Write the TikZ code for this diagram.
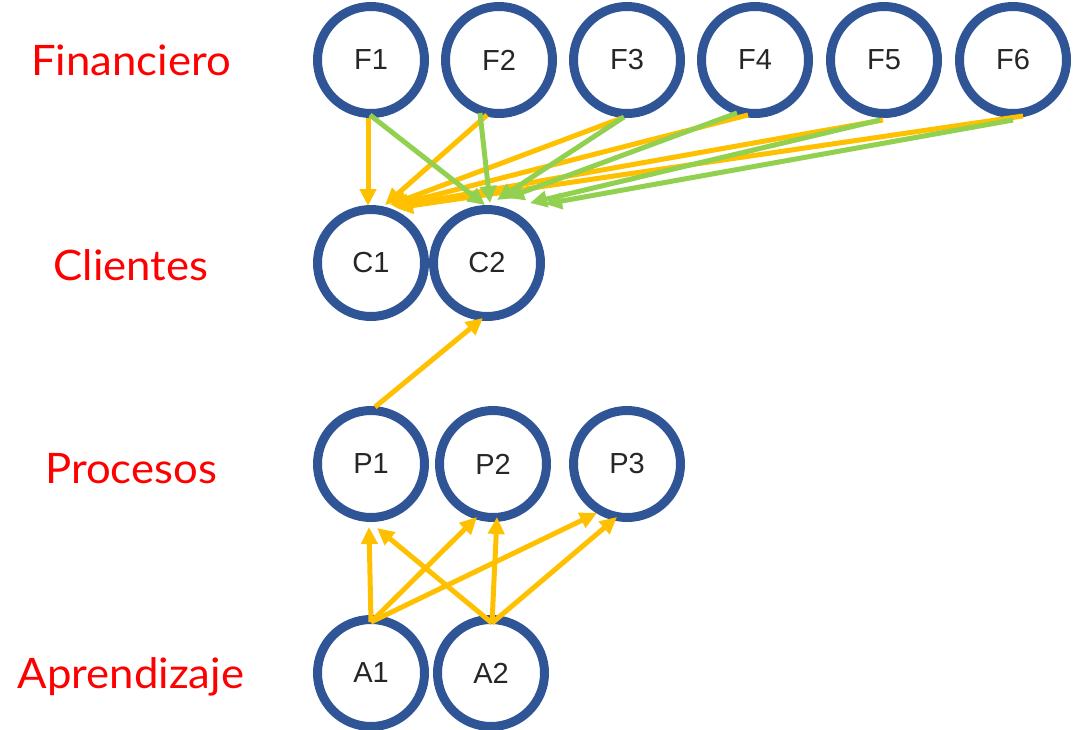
\documentclass[tikz,border=0pt]{standalone}
\usepackage{fontspec}
\setmainfont{Liberation Sans}
\newfontfamily\labelfont{Lato}
\usetikzlibrary{arrows.meta,calc}
\definecolor{ringblue}{HTML}{2F5597}
\definecolor{amber}{HTML}{FFC000}
\definecolor{leaf}{HTML}{92D050}
\definecolor{labelred}{HTML}{FF0000}
\definecolor{ink}{HTML}{262626}

\begin{document}
\begin{tikzpicture}[x=1pt,y=-1pt,
  kpi/.style={circle,draw=ringblue,line width=9pt,minimum size=107pt,inner sep=0pt,
    font=\fontsize{29}{29}\selectfont,text=ink},
  persp/.style={anchor=base,text=labelred,font=\labelfont\fontsize{42}{42}\selectfont},
  link/.style={line width=5pt,-{Triangle[length=17pt,width=16pt]}},
  ylink/.style={link,color=amber},
  glink/.style={link,color=leaf}]
\useasboundingbox (0,0) rectangle (1074,729);

% perspective labels
\node[persp] (lf) at (131,75) {\scalebox{1.04}[1]{Financiero}};
\node[persp] (lc) at (131,280) {\scalebox{1.04}[1]{Clientes}};
\node[persp] (lp) at (131,483) {\scalebox{1.04}[1]{Procesos}};
\node[persp] (la) at (131,688) {\scalebox{1.04}[1]{Aprendizaje}};

% indicator circles
\node[kpi] (F1) at (371,60) {F1};
\node[kpi] (F2) at (499,60) {F2};
\node[kpi] (F3) at (627,60) {F3};
\node[kpi] (F4) at (755,60) {F4};
\node[kpi] (F5) at (884,60) {F5};
\node[kpi] (F6) at (1013,60) {F6};
\node[kpi] (C1) at (371,263) {C1};
\node[kpi] (C2) at (487,263) {C2};
\node[kpi] (P1) at (371,464) {P1};
\node[kpi] (P2) at (493,464) {P2};
\node[kpi] (P3) at (627,464) {P3};
\node[kpi] (A1) at (371,673) {A1};
\node[kpi] (A2) at (491,673) {A2};

% financial -> client (amber, into C1)
\draw[ylink] ($(F1)+(-3,58)$) -- ($(C1)+(-3,-57)$);
\draw[ylink] ($(F2)+(-12,55)$) -- ($(C1)+(14,-58)$);
\draw[ylink] ($(F3)+(-5,58)$) -- ($(C1)+(19,-58)$);
\draw[ylink] ($(F4)+(-7,55)$) -- ($(C1)+(21,-57)$);
\draw[ylink] ($(F5)+(-1,60)$) -- ($(C1)+(23,-56)$);
\draw[ylink] ($(F6)+(10,56)$) -- ($(C1)+(25,-55)$);

% financial -> client (green, into C2)
\draw[glink] ($(F1)+(-1,55)$) -- ($(C2)+(-2,-58)$);
\draw[glink] ($(F2)+(-19,53)$) -- ($(C2)+(3,-60)$);
\draw[glink] ($(F3)+(-3,57)$) -- ($(C2)+(10,-63)$);
\draw[glink] ($(F4)+(-18,53)$) -- ($(C2)+(20,-65)$);
\draw[glink] ($(F5)+(-4,60)$) -- ($(C2)+(43,-60)$);
\draw[glink] ($(F6)+(0,60)$) -- ($(C2)+(58,-59)$);

% process -> client
\draw[ylink] ($(P1)+(4,-57)$) -- ($(C2)+(-4,55)$);

% learning -> process
\draw[ylink] ($(A1)+(0,-51)$) -- ($(P1)+(-2,63)$);
\draw[ylink] ($(A1)+(0,-51)$) -- ($(P2)+(-16,53)$);
\draw[ylink] ($(A1)+(0,-51)$) -- ($(P3)+(-30,49)$);
\draw[ylink] ($(A2)+(1,-50)$) -- ($(P1)+(6,64)$);
\draw[ylink] ($(A2)+(1,-50)$) -- ($(P2)+(4,53)$);
\draw[ylink] ($(A2)+(1,-50)$) -- ($(P3)+(-10,53)$);
\end{tikzpicture}
\end{document}
